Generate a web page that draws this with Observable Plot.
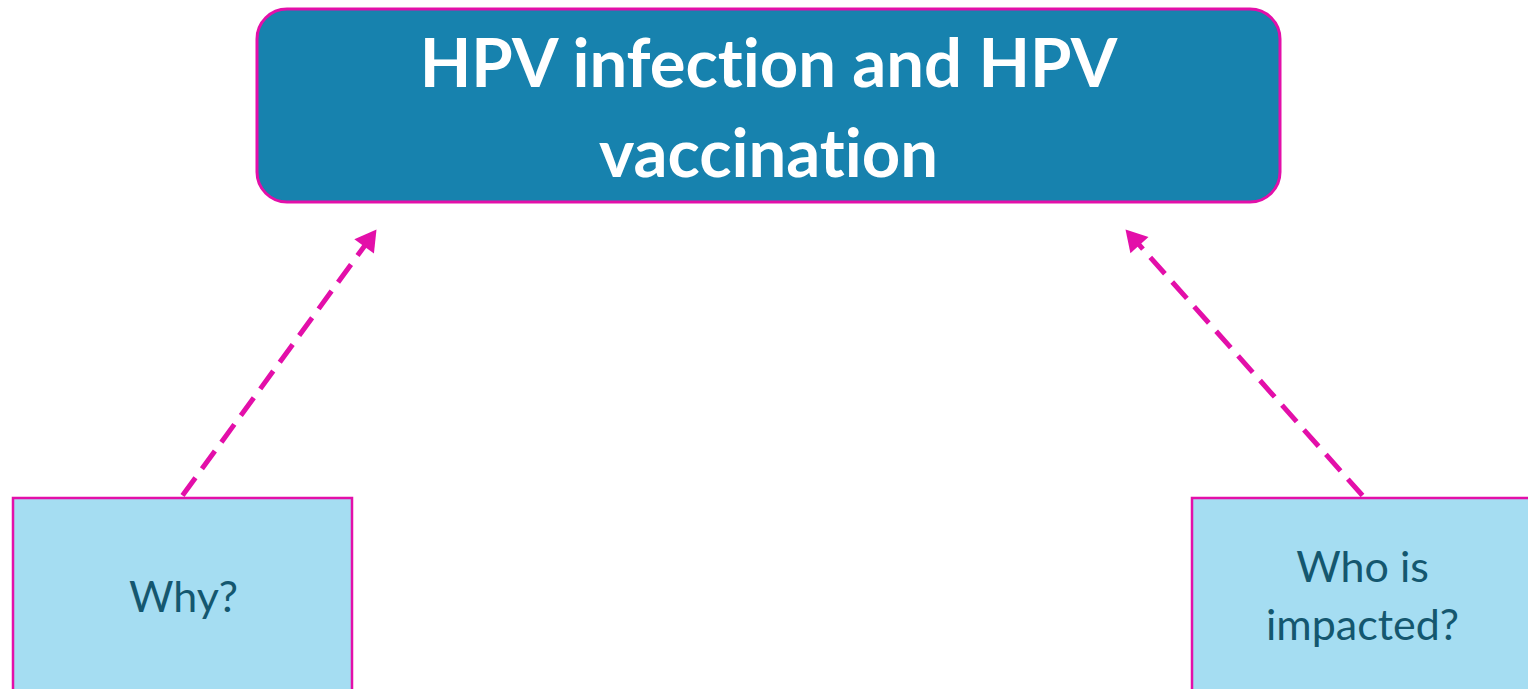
<!DOCTYPE html>
<html>
<head>
<meta charset="utf-8">
<script src="https://cdn.jsdelivr.net/npm/d3@7"></script>
<script src="https://cdn.jsdelivr.net/npm/@observablehq/plot@0.6"></script>
<style>
  html, body { margin: 0; padding: 0; background: #fff; overflow: hidden; }
  svg { display: block; }
  svg text { font-variant-ligatures: none; }
</style>
</head>
<body>
<div id="chart"></div>
<script>
// Boxes (diagram coordinates, pixels of the reference picture)
const boxNames  = ["main", "why", "who"];
const boxX1     = [257, 13, 1192];
const boxX2     = [1280, 352, 1545];
const boxY1     = [9, 498, 498];
const boxY2     = [202, 705, 705];

// Labels
const labelText = ["HPV infection and HPV\nvaccination", "Why?", "Who is\nimpacted?"];
const labelX    = [768, 183, 1362];
const labelY    = [103, 593, 592];

// Arrows (from bottom box to the title box)
const arrowFromX = [182, 1362];
const arrowFromY = [495, 495];
const arrowToX   = [376, 1125];
const arrowToY   = [229, 229];

const MAGENTA = "#e30fa9";

const boxes = boxNames.map((n, i) => ({name: n, x1: boxX1[i], x2: boxX2[i], y1: boxY1[i], y2: boxY2[i]}));
const labels = labelText.map((t, i) => ({text: t, x: labelX[i], y: labelY[i], main: i === 0}));
const headLen = 14; // distance from triangle centroid to tip
const arrows = arrowFromX.map((x, i) => {
  const dx = arrowToX[i] - x, dy = arrowToY[i] - arrowFromY[i];
  const L = Math.hypot(dx, dy);
  const ux = dx / L, uy = dy / L;
  return {
    x1: x, y1: arrowFromY[i],
    x2: arrowToX[i] - ux * 20, y2: arrowToY[i] - uy * 20,
    hx: arrowToX[i] - ux * headLen, hy: arrowToY[i] - uy * headLen,
    angle: Math.atan2(dx, -dy) * 180 / Math.PI
  };
});

const chart = Plot.plot({
  width: 1528,
  height: 689,
  margin: 0,
  x: {domain: [0, 1528], axis: null},
  y: {domain: [0, 689], axis: null, reverse: true},
  style: {fontFamily: "Lato, 'Open Sans', sans-serif", overflow: "hidden", background: "#fff"},
  marks: [
    Plot.rect(boxes.slice(0, 1), {x1: "x1", x2: "x2", y1: "y1", y2: "y2", fill: "#1782ae", stroke: MAGENTA, strokeWidth: 3, rx: 30}),
    Plot.rect(boxes.slice(1), {x1: "x1", x2: "x2", y1: "y1", y2: "y2", fill: "#a5ddf2", stroke: MAGENTA, strokeWidth: 2.5}),
    Plot.link(arrows, {x1: "x1", y1: "y1", x2: "x2", y2: "y2", stroke: MAGENTA, strokeWidth: 5, strokeDasharray: "22 11"}),
    Plot.dot(arrows, {x: "hx", y: "hy", symbol: "triangle", r: 9, fill: MAGENTA, rotate: "angle"}),
    Plot.text(labels.filter(d => d.main), {x: "x", y: "y", text: "text", fill: "#fff", fontSize: 67, fontWeight: "bold", lineHeight: 90 / 67}),
    Plot.text(labels.filter(d => !d.main), {x: "x", y: "y", text: "text", fill: "#14576f", fontSize: 43, lineHeight: 58 / 43})
  ]
});
document.getElementById("chart").appendChild(chart);
</script>
</body>
</html>
